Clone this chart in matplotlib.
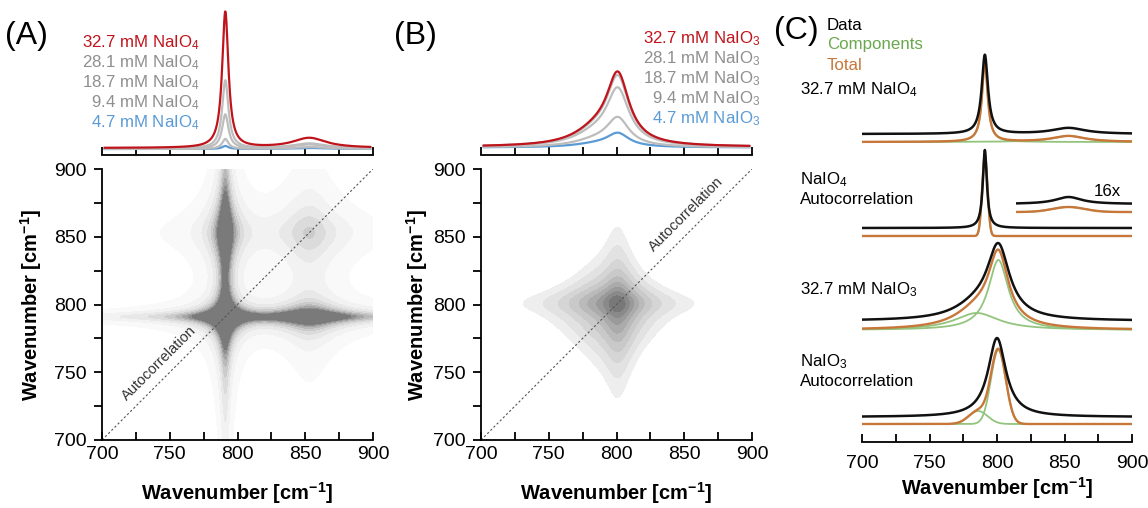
import numpy as np
import matplotlib
matplotlib.use('Agg')
import matplotlib.pyplot as plt
from matplotlib.colors import LinearSegmentedColormap

plt.rcParams.update({
    'font.family': ['Liberation Sans', 'DejaVu Sans'],
    'mathtext.fontset': 'custom',
    'mathtext.rm': 'Liberation Sans',
    'mathtext.it': 'Liberation Sans:italic',
    'mathtext.bf': 'Liberation Sans:bold',
    'font.size': 14,
})

# concentrations of the titration series (top of A and B)
conc = ['32.7', '28.1', '18.7', '9.4', '4.7']

# NaIO4 spectra: sharp band + weak broad band (peak heights)
io4_centers = [791, 853]
io4_widths = [2.8, 15]
io4_main = [136, 68, 34, 10, 3]
io4_broad = [10, 5, 4, 2, 1]
io4_base = [7, 6.5, 6.5, 6, 6]

# NaIO3 spectra: main band + low-frequency shoulder (panel B)
io3_centers = [801, 785]
io3_widths = [10, 20]
io3_main = [67, 64, 53, 27, 13]
io3_shoulder = [14, 13, 11, 6, 3]
io3_base = [8, 8, 8, 7.5, 7.5]

# panel C fits: (center, width, height) per component, offsets of the stacked traces
c1_data = [(791, 2.8, 79), (853, 15, 6)]
c1_fit = [(791, 2.5, 80), (853, 15, 6)]
c1_off = (308, 300)
c2_data = [(791, 1.8, 78)]
c2_fit = [(791, 2.0, 80)]
c2_off = (214, 206)
c2_zoom_data = (853, 12, 7)
c2_zoom_fit = (853, 12, 5)
c2_zoom_off = (238, 230)
c3_data = [(801, 10, 70), (785, 20, 13)]
c3_fit = [(801, 9, 70), (785, 20, 17)]
c3_off = (121, 112)
c4_data = [(800, 8, 79)]
c4_fit = [(801, 5.5, 74), (786, 7, 13)]
c4_off = (25, 18)

W, H = 1148, 508


def lor(x, x0, hw, h):
    return h * hw ** 2 / ((x - x0) ** 2 + hw ** 2)


def gau(x, x0, s, h):
    return h * np.exp(-0.5 * ((x - x0) / s) ** 2)


def box(x0, y0, x1, y1):
    # pixel box -> figure fraction rect
    return [x0 / W, 1 - y1 / H, (x1 - x0) / W, (y1 - y0) / H]


def ftext(x, y, s, **kw):
    fig.text(x / W, 1 - y / H, s, **kw)


fig = plt.figure(figsize=(W / 100, H / 100), dpi=100)
x = np.linspace(702, 898, 981)
grid = np.linspace(700, 900, 401)

cmap = LinearSegmentedColormap.from_list('g', ['#ffffff', '#6f6f6f'])
line_cols = ['#c0141c', '#bdbdbd', '#bdbdbd', '#bdbdbd', '#5b9bd5']
text_cols = ['#c0141c', '#8f8f8f', '#8f8f8f', '#8f8f8f', '#5b9bd5']
label_fs = 12.2


def top_axes(rect):
    ax = fig.add_axes(rect)
    ax.set_xlim(700, 900)
    ax.set_ylim(0, 147)
    for s in ['top', 'right', 'left']:
        ax.spines[s].set_visible(False)
    ax.spines['bottom'].set_linewidth(1.3)
    ax.set_yticks([])
    ax.set_xticks(np.arange(700, 901, 25))
    ax.tick_params(axis='x', direction='in', length=6, width=1.3, labelbottom=False)
    ax.patch.set_alpha(0)
    return ax


def map_axes(rect, xl, yl):
    ax = fig.add_axes(rect)
    ax.set_xlim(700, 900)
    ax.set_ylim(700, 900)
    for s in ['top', 'right']:
        ax.spines[s].set_visible(False)
    for s in ['left', 'bottom']:
        ax.spines[s].set_linewidth(1.3)
    ax.set_xticks(np.arange(700, 901, 50))
    ax.set_yticks(np.arange(700, 901, 50))
    ax.set_xticks(np.arange(700, 901, 25), minor=True)
    ax.set_yticks(np.arange(700, 901, 25), minor=True)
    ax.tick_params(axis='x', which='both', direction='in', length=6, width=1.3, pad=4)
    ax.tick_params(axis='y', which='both', direction='out', length=6, width=1.3, pad=5)
    ax.set_xlabel('Wavenumber [cm$^{\\mathbf{-1}}$]', fontweight='bold', fontsize=14.5)
    ax.set_ylabel('Wavenumber [cm$^{\\mathbf{-1}}$]', fontweight='bold', fontsize=14.5)
    ax.xaxis.label.set_va('center')
    ax.yaxis.label.set_va('center')
    ax.xaxis.set_label_coords(0.5, xl)
    ax.yaxis.set_label_coords(yl, 0.5)
    ax.plot([700, 900], [700, 900], color='#555555', lw=0.8, dashes=(2, 2))
    return ax


# ---------------- (A) NaIO4 ----------------
axa = top_axes(box(102, 8, 373, 155))
for i in range(len(conc))[::-1]:
    y = (io4_base[i] + lor(x, io4_centers[0], io4_widths[0], io4_main[i])
         + lor(x, io4_centers[1], io4_widths[1], io4_broad[i]))
    axa.plot(x, y, color=line_cols[i], lw=1.6, zorder=3 if i == 0 else 2)
for i, c in enumerate(conc):
    ftext(200, 43 + 20 * i, c + ' mM NaIO$_4$', color=text_cols[i], fontsize=label_fs,
          ha='right', va='center')

ma = map_axes(box(102, 169, 373, 440), -0.196, -0.262)
s = lor(grid, io4_centers[0], io4_widths[0], io4_main[0]) + lor(grid, io4_centers[1], io4_widths[1], io4_broad[0])
za = np.clip(np.outer(s, s) / 330.0, 0, 1)
ma.contourf(grid, grid, za, levels=[0.02, 0.06, 0.12, 0.2, 0.3, 0.42, 0.55, 0.7, 0.85, 1.001],
            cmap=cmap, vmin=0, vmax=1, zorder=0)
ma.text(742, 757, 'Autocorrelation', rotation=45, rotation_mode='anchor', ha='center',
        va='center', fontsize=10.5, color='#333333')

# ---------------- (B) NaIO3 ----------------
axb = top_axes(box(481, 8, 752, 155))
for i in range(len(conc))[::-1]:
    y = (io3_base[i] + lor(x, io3_centers[0], io3_widths[0], io3_main[i])
         + lor(x, io3_centers[1], io3_widths[1], io3_shoulder[i]))
    axb.plot(x, y, color=line_cols[i], lw=1.6, zorder=3 if i == 0 else 2)
for i, c in enumerate(conc):
    ftext(761, 39 + 20 * i, c + ' mM NaIO$_3$', color=text_cols[i], fontsize=label_fs,
          ha='right', va='center')

mb = map_axes(box(481, 169, 752, 440), -0.196, -0.236)
s = lor(grid, io3_centers[0], io3_widths[0], io3_main[0]) + lor(grid, io3_centers[1], io3_widths[1], io3_shoulder[0])
zb = (np.outer(s, s) / np.max(np.outer(s, s))) ** 0.42
mb.contourf(grid, grid, zb, levels=[0.26, 0.32, 0.39, 0.46, 0.54, 0.62, 0.71, 0.8, 0.9, 1.001],
            cmap=LinearSegmentedColormap.from_list('g2', ['#f3f3f3', '#6f6f6f']), zorder=0)
mb.text(851, 867, 'Autocorrelation', rotation=45, rotation_mode='anchor', ha='center',
        va='center', fontsize=10.5, color='#333333')

# ---------------- (C) fits ----------------
axc = fig.add_axes(box(862, 42, 1132, 442))
axc.set_xlim(700, 900)
axc.set_ylim(0, 400)
for sp in ['top', 'right', 'left']:
    axc.spines[sp].set_visible(False)
axc.spines['bottom'].set_linewidth(1.3)
axc.set_yticks([])
axc.set_xticks(np.arange(700, 901, 50))
axc.set_xticks(np.arange(700, 901, 25), minor=True)
axc.tick_params(axis='x', which='both', direction='in', length=6, width=1.3, pad=9)
axc.set_xlabel('Wavenumber [cm$^{\\mathbf{-1}}$]', fontweight='bold', fontsize=14.5)
axc.xaxis.label.set_va('center')
axc.xaxis.set_label_coords(0.5, -0.115)

black, orange, green = '#111111', '#c8773a', '#93c47d'
xc = np.linspace(700, 900, 1001)


def trace(comp_data, comp_fit, off, shape, xs=xc):
    d = off[0] + sum(lor(xs, *p) for p in comp_data)
    for p in comp_fit:
        axc.plot(xs, off[1] + shape(xs, *p), color=green, lw=1.3, zorder=2)
    tot = off[1] + sum(shape(xs, *p) for p in comp_fit)
    axc.plot(xs, tot, color=orange, lw=1.7, zorder=3)
    axc.plot(xs, d, color=black, lw=1.8, zorder=4)


trace(c1_data, c1_fit, c1_off, lor)
trace(c2_data, c2_fit, c2_off, gau)
xz = np.linspace(815, 900, 400)
trace([c2_zoom_data], [c2_zoom_fit], c2_zoom_off, gau, xz)
trace(c3_data, c3_fit, c3_off, lor)
trace(c4_data, c4_fit, c4_off, gau)
axc.text(882, 250, '16x', fontsize=label_fs, ha='center', va='center')

ftext(827, 25, 'Data', fontsize=label_fs, va='center')
ftext(827, 45, 'Components', fontsize=label_fs, va='center', color='#6aa84f')
ftext(827, 65, 'Total', fontsize=label_fs, va='center', color='#c8773a')
ftext(800, 90, '32.7 mM NaIO$_4$', fontsize=label_fs, va='center')
ftext(800, 180, 'NaIO$_4$', fontsize=label_fs, va='center')
ftext(800, 200, 'Autocorrelation', fontsize=label_fs, va='center')
ftext(800, 290, '32.7 mM NaIO$_3$', fontsize=label_fs, va='center')
ftext(800, 362, 'NaIO$_3$', fontsize=label_fs, va='center')
ftext(800, 382, 'Autocorrelation', fontsize=label_fs, va='center')

ftext(5, 36, '(A)', fontsize=23, va='center')
ftext(394, 36, '(B)', fontsize=23, va='center')
ftext(774, 31, '(C)', fontsize=23, va='center')

fig.savefig('out.png', dpi=100)
